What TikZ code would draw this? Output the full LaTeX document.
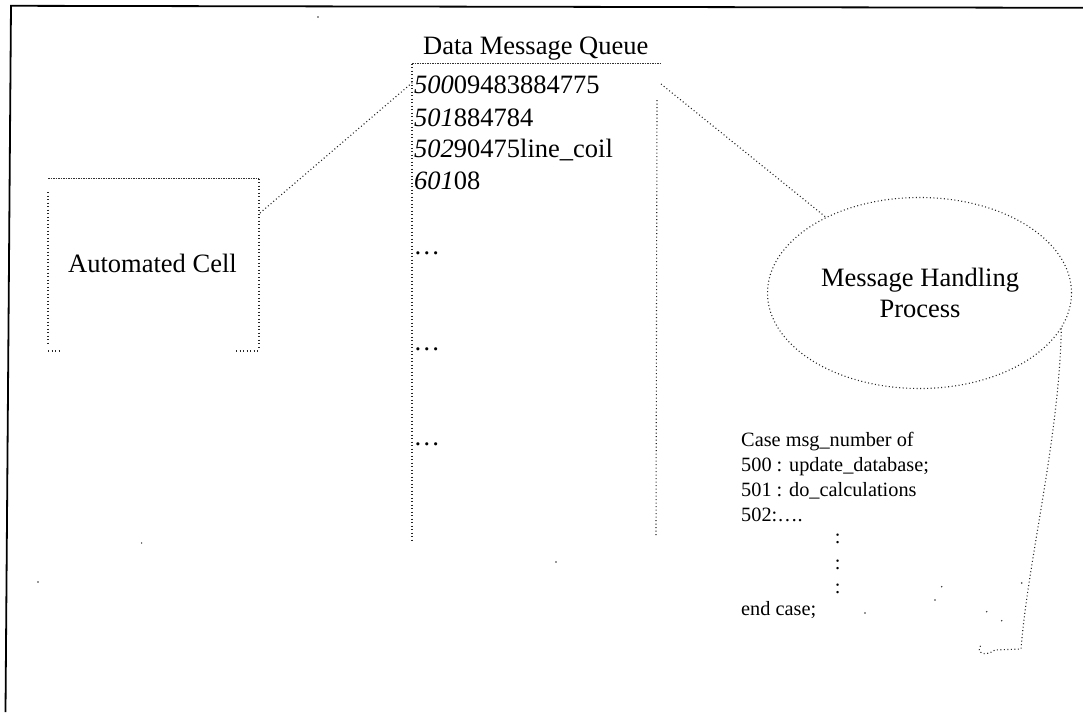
\documentclass[tikz,border=0pt]{standalone}
\usepackage{fontspec}
\setmainfont{Liberation Serif}
\usetikzlibrary{shapes.geometric}
\tikzset{
  dotln/.style={line width=1.1pt, dash pattern=on 1pt off 2.5pt, black!85},
  denseln/.style={line width=0.9pt, dash pattern=on 1.6pt off 0.9pt, black!80},
  frameln/.style={line width=1.8pt, black},
  big/.style={font=\fontsize{26.5}{31}\selectfont, inner sep=0pt},
  small/.style={font=\fontsize{20.3}{25}\selectfont, inner sep=0pt},
  speck/.style={fill=black!80, circle, inner sep=0pt, minimum size=1.6pt},
}
\begin{document}
\begin{tikzpicture}[x=1pt,y=-1pt]
\useasboundingbox (0,0) rectangle (1083,712);
% outer frame (only top and left edges visible)
\coordinate (fTL) at (11,5.8);
\coordinate (fTR) at (1083,7.8);
\coordinate (fBL) at (5.5,712);
\draw[frameln] (fTR) -- (fTL) -- (fBL);

% title and queue
\node[big, anchor=base west] (title) at (423,54) {Data Message Queue};
\coordinate (qTL) at (412,63.5);
\coordinate (qTR) at (660,63.5);
\coordinate (qBL) at (412,543);
\coordinate (qRT) at (657,100);
\coordinate (qRB) at (656,536);
\draw[denseln] (qTL) -- (qTR);
\draw[dotln] (qTL) -- (qBL);
\draw[dotln] (qRT) -- (qRB);
\node[big, anchor=base west] (r1) at (414,93) {\textit{500}09483884775};
\node[big, anchor=base west] (r2) at (414,126) {\textit{501}884784};
\node[big, anchor=base west] (r3) at (414,157) {\textit{502}90475line\_coil};
\node[big, anchor=base west] (r4) at (414,189) {\textit{601}08};
\node[big, anchor=base west] (d1) at (413.5,254) {…};
\node[big, anchor=base west] (d2) at (413.5,350) {…};
\node[big, anchor=base west] (d3) at (413.5,445) {…};

% automated cell
\coordinate (cTL) at (48,178.5);
\coordinate (cTR) at (259,178.5);
\coordinate (cBR) at (259,350);
\coordinate (cL1) at (48,192);
\coordinate (cL2) at (48,344);
\draw[denseln] (cTL) -- (cTR);
\draw[dotln] (cTR) -- (cBR);
\draw[dotln] (cL1) -- (cL2);
\draw[dotln] (48,351) -- (60,351);
\draw[dotln] (236,351) -- (259,351);
\node[big, anchor=base] (cell) at (152.5,272) {Automated Cell};

% connector cell -> queue
\coordinate (cellR) at (260,213);
\coordinate (qL) at (413,82);
\draw[dotln] (cellR) -- (qL);

% message handling process
\node[ellipse, draw, dotln, minimum width=304pt, minimum height=191pt, inner sep=0pt] (mhp) at (919.5,293) {};
\node[big, anchor=base] (mhp1) at (920,286) {Message Handling};
\node[big, anchor=base] (mhp2) at (920,317) {Process};
\coordinate (qR) at (661,84);
\draw[dotln] (qR) -- (mhp.141);

% callout
\coordinate (cb) at (1021,649);
\coordinate (ch) at (995,650);
\coordinate (ce) at (981,645);
\draw[dotln] (mhp.-14) .. controls (1059,440) and (1028,560) .. (cb) -- (ch)
  .. controls (985,657) and (975,653) .. (ce);

% case code
\node[small, anchor=base west] (k1) at (741,446) {Case msg\_number of};
\node[small, anchor=base west] (k2) at (741,471) {500 : update\_database;};
\node[small, anchor=base west] (k3) at (741,496) {501 : do\_calculations};
\node[small, anchor=base west] (k4) at (741,521) {502:….};
\node[small, anchor=base] (c1) at (837.7,543) {:};
\node[small, anchor=base] (c2) at (837.7,569) {:};
\node[small, anchor=base] (c3) at (837.7,593) {:};
\node[small, anchor=base west] (k5) at (741,615) {end case;};

% stray specks
\foreach \p in {(318,17),(141.6,543),(38,582),(556,562),(865,613),(935,600),(941.7,586.7),(986.7,611.7),(1001.7,620.7),(1021.7,583)}
  \node[speck] at \p {};
\end{tikzpicture}
\end{document}
